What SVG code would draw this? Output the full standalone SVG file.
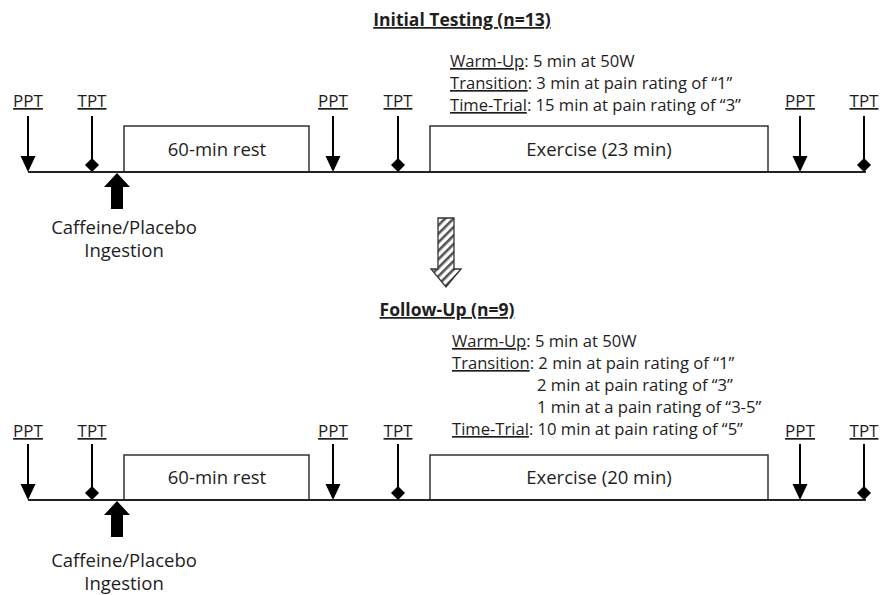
<svg xmlns="http://www.w3.org/2000/svg" xmlns:xlink="http://www.w3.org/1999/xlink" width="881" height="595" viewBox="0 0 881 595">
<style>
text{font-family:"Open Sans","Noto Sans","Liberation Sans",sans-serif;fill:#1e1e1e}
.title{font-size:17.5px;font-weight:bold;text-anchor:middle;text-decoration:underline}
.info{font-size:16.6px}
.u{text-decoration:underline}
.lbl{font-size:17px;text-anchor:middle;text-decoration:underline}
.box{font-size:18.5px;text-anchor:middle}
.cap{font-size:18.5px;text-anchor:middle}
.timeline{stroke:#222;stroke-width:2;fill:none}
.boxshape{stroke:#333;stroke-width:1.5;fill:#fff}
</style>
<defs>
<g id="ppt-mark">
<line x1="0" y1="-56" x2="0" y2="-15" stroke="#000" stroke-width="2"/>
<polygon points="-7.5,-16 7.5,-16 0,0" fill="#000"/>
</g>
<g id="tpt-mark">
<line x1="0" y1="-56" x2="0" y2="-12" stroke="#000" stroke-width="2"/>
<polygon points="0,-14 7,-7 0,0 -7,-7" fill="#000"/>
</g>
<polygon id="caf-arrow" points="0,0 13,14 6,14 6,36 -6,36 -6,14 -13,14" fill="#000"/>
<pattern id="hatch" patternUnits="userSpaceOnUse" width="6" height="6" patternTransform="rotate(45)">
<rect width="6" height="6" fill="#fff"/>
<rect width="2.6" height="6" fill="#555"/>
</pattern>
</defs>

<!-- Initial Testing section -->
<g id="title-initial"><text class="title" x="462" y="26">Initial Testing (n=13)</text></g>
<g id="info-initial">
<text class="info" x="450" y="67"><tspan class="u">Warm-Up</tspan>: 5 min at 50W</text>
<text class="info" x="450" y="89"><tspan class="u">Transition</tspan>: 3 min at pain rating of “1”</text>
<text class="info" x="450" y="111"><tspan class="u">Time-Trial</tspan>: 15 min at pain rating of “3”</text>
</g>
<g id="rest-initial">
<path class="boxshape" d="M124,172 V126 H309 V172"/>
<text class="box" x="217" y="156">60-min rest</text>
</g>
<g id="exercise-initial">
<path class="boxshape" d="M430,172 V126 H768 V172"/>
<text class="box" x="599" y="156">Exercise (23 min)</text>
</g>
<g id="ppt1-initial"><text class="lbl" x="28" y="107">PPT</text><use xlink:href="#ppt-mark" x="28" y="172"/></g>
<g id="tpt1-initial"><text class="lbl" x="92" y="107">TPT</text><use xlink:href="#tpt-mark" x="92" y="172"/></g>
<g id="ppt2-initial"><text class="lbl" x="333" y="107">PPT</text><use xlink:href="#ppt-mark" x="333" y="172"/></g>
<g id="tpt2-initial"><text class="lbl" x="398" y="107">TPT</text><use xlink:href="#tpt-mark" x="398" y="172"/></g>
<g id="ppt3-initial"><text class="lbl" x="800" y="107">PPT</text><use xlink:href="#ppt-mark" x="800" y="172"/></g>
<g id="tpt3-initial"><text class="lbl" x="864" y="107">TPT</text><use xlink:href="#tpt-mark" x="864" y="172"/></g>
<g id="caffeine-initial">
<use xlink:href="#caf-arrow" x="117" y="173"/>
<text class="cap" x="124" y="234">Caffeine/Placebo</text>
<text class="cap" x="124" y="257">Ingestion</text>
</g>

<!-- Follow-Up section -->
<g id="title-followup"><text class="title" x="447" y="316">Follow-Up (n=9)</text></g>
<g id="info-followup">
<text class="info" x="452" y="347"><tspan class="u">Warm-Up</tspan>: 5 min at 50W</text>
<text class="info" x="452" y="369"><tspan class="u">Transition</tspan>: 2 min at pain rating of “1”</text>
<text class="info" x="537" y="391">2 min at pain rating of “3”</text>
<text class="info" x="537" y="413">1 min at a pain rating of “3-5”</text>
<text class="info" x="452" y="435"><tspan class="u">Time-Trial</tspan>: 10 min at pain rating of “5”</text>
</g>
<g id="rest-followup">
<path class="boxshape" d="M124,500 V455 H309 V500"/>
<text class="box" x="217" y="484">60-min rest</text>
</g>
<g id="exercise-followup">
<path class="boxshape" d="M430,500 V455 H768 V500"/>
<text class="box" x="599" y="484">Exercise (20 min)</text>
</g>
<g id="ppt1-followup"><text class="lbl" x="28" y="437">PPT</text><use xlink:href="#ppt-mark" x="28" y="500"/></g>
<g id="tpt1-followup"><text class="lbl" x="92" y="437">TPT</text><use xlink:href="#tpt-mark" x="92" y="500"/></g>
<g id="ppt2-followup"><text class="lbl" x="333" y="437">PPT</text><use xlink:href="#ppt-mark" x="333" y="500"/></g>
<g id="tpt2-followup"><text class="lbl" x="398" y="437">TPT</text><use xlink:href="#tpt-mark" x="398" y="500"/></g>
<g id="ppt3-followup"><text class="lbl" x="800" y="437">PPT</text><use xlink:href="#ppt-mark" x="800" y="500"/></g>
<g id="tpt3-followup"><text class="lbl" x="864" y="437">TPT</text><use xlink:href="#tpt-mark" x="864" y="500"/></g>
<g id="caffeine-followup">
<use xlink:href="#caf-arrow" x="117" y="501"/>
<text class="cap" x="124" y="567">Caffeine/Placebo</text>
<text class="cap" x="124" y="590">Ingestion</text>
</g>

<!-- connectors -->
<g id="connectors">
<line class="timeline" x1="28" y1="172" x2="866" y2="172"/>
<line class="timeline" x1="28" y1="500" x2="866" y2="500"/>
<path d="M438,218 H454 V269 H461 L446,287 L431,269 H438 Z" fill="url(#hatch)" stroke="#333" stroke-width="1.3"/>
</g>
</svg>
